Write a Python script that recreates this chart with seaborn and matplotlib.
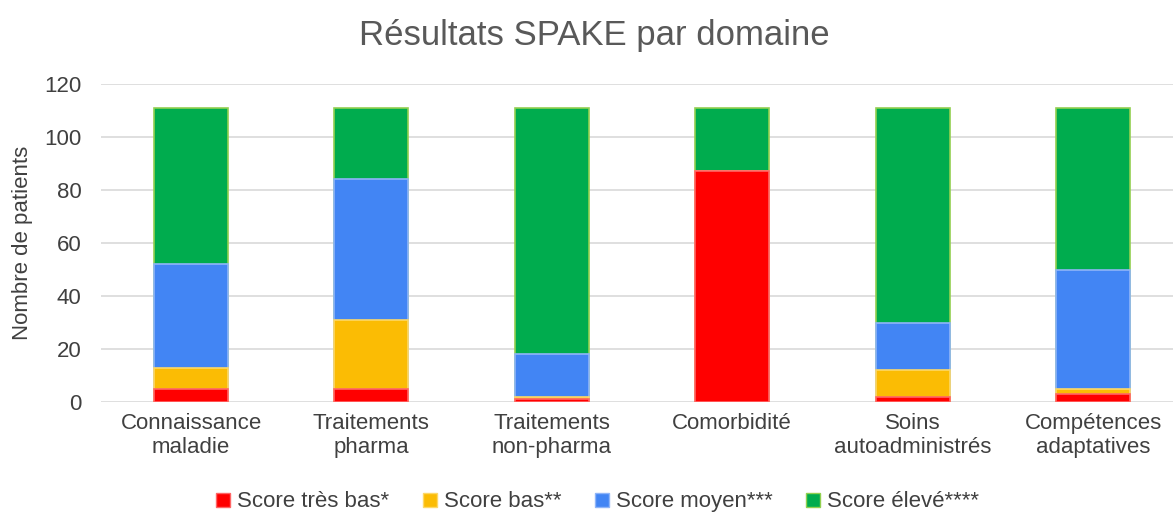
import numpy as np
import pandas as pd
import matplotlib
matplotlib.use("Agg")
import matplotlib.pyplot as plt
from matplotlib.lines import Line2D
import seaborn as sns

# -----------------------------
# DATA
# -----------------------------
domains = ["Connaissance\nmaladie", "Traitements\npharma", "Traitements\nnon-pharma",
           "Comorbidité", "Soins\nautoadministrés", "Compétences\nadaptatives"]
tres_bas = [5, 5, 1, 87, 2, 3]
bas = [8, 26, 1, 0, 10, 2]
moyen = [39, 53, 16, 0, 18, 45]
eleve = [59, 27, 93, 24, 81, 61]

series = ["Score très bas*", "Score bas**", "Score moyen***", "Score élevé****"]
colors = ["#FF0000", "#FBBC04", "#4285F4", "#00AC4E"]
edges = ["#FF6666", "#FDD868", "#8FB5F8", "#92D050"]

df = pd.DataFrame({"Domaine": domains, series[0]: tres_bas, series[1]: bas,
                   series[2]: moyen, series[3]: eleve})

# cumulative tops, drawn from the top layer down
cum = df[series].cumsum(axis=1)

sns.set_style("white")
plt.rcParams["font.family"] = ["Liberation Sans", "DejaVu Sans"]

fig = plt.figure(figsize=(11.73, 5.13), dpi=100)
ax = fig.add_axes([100.8 / 1173, 111 / 513, (1173 - 100.8) / 1173, 318 / 513])

for s, c, e in reversed(list(zip(series, colors, edges))):
    sns.barplot(x=df["Domaine"], y=cum[s], color=c, width=0.41, ax=ax,
                edgecolor=e, linewidth=1.2, saturation=1, zorder=3)

ax.set_ylim(0, 120)
ax.set_xlim(-0.5, -0.5 + (1173 - 100.8) / 180.4)
ax.set_yticks(np.arange(0, 121, 20))
ax.yaxis.grid(True, color="#D9D9D9", linewidth=1.2, zorder=0)
ax.set_axisbelow(True)
for sp in ax.spines.values():
    sp.set_visible(False)
ax.tick_params(axis="both", length=0, labelsize=16, colors="#404040")
ax.tick_params(axis="x", pad=8)
ax.tick_params(axis="y", pad=14)
ax.set_xlabel("")
ax.set_ylabel("Nombre de patients", fontsize=16, color="#404040", labelpad=8)

fig.text(594 / 1173, 1 - 36 / 513, "Résultats SPAKE par domaine",
         ha="center", va="center", fontsize=25, color="#595959")

handles = [Line2D([0], [0], marker="s", linestyle="", markersize=10,
                  markerfacecolor=c, markeredgecolor=e) for c, e in zip(colors, edges)]
fig.legend(handles, series, loc="center", bbox_to_anchor=(590 / 1173, 1 - 502 / 513), ncol=4,
           frameon=False, fontsize=16, handletextpad=-0.35, columnspacing=0.8,
           labelcolor="#404040", borderaxespad=0, borderpad=0)

fig.savefig("out.png", dpi=100)
